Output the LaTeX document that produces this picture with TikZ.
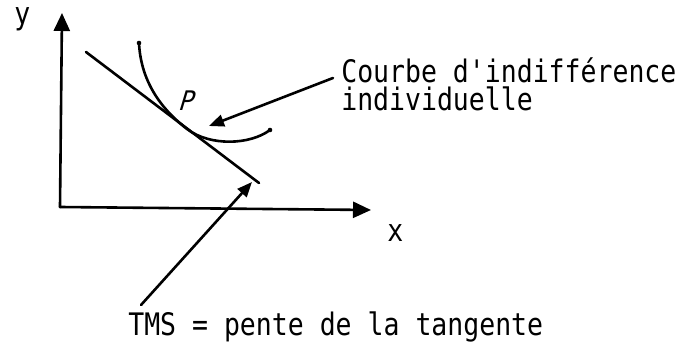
\documentclass[tikz,border=0pt]{standalone}
\usepackage{fontspec}
\setmonofont[FakeStretch=0.855]{DejaVu Sans Mono}
\newfontfamily\twi[FakeStretch=0.9,FakeSlant=0.3]{DejaVu Sans Mono}
\usetikzlibrary{arrows.meta}
\begin{document}
\begin{tikzpicture}[x=1pt,y=-1pt, line width=2.6pt, line cap=round,
  axis/.style={-{Triangle[length=18pt,width=16pt]}},
  pointer/.style={-{Triangle[length=15pt,width=12pt]}},
  lbl/.style={font=\ttfamily\fontsize{31}{28}\selectfont, inner sep=0pt, anchor=base west}]
\useasboundingbox (0,0) rectangle (687,344);
% axes
\coordinate (O) at (60,207);
\coordinate (ytip) at (62,13);
\coordinate (xtip) at (371,210);
\draw[axis] (O) -- (ytip);
\draw[axis] (O) -- (xtip);
\node[lbl] (ylab) at (13,25) {y};
\node[lbl] (xlab) at (386,242) {x};
% tangent line
\coordinate (L1) at (86,52);
\coordinate (L2) at (259,183);
\draw (L1) -- (L2);
% indifference curve
\coordinate (C0) at (139,43);
\coordinate (T) at (187,129);
\coordinate (C1) at (270,130);
\draw (C0) .. controls (141,85) and (165,112) .. (T)
           .. controls (210,146.5) and (250,145) .. (C1);
\fill (C0) circle (2.3pt);
\fill (C1) circle (2.3pt);
\node[font=\twi\fontsize{27}{27}\selectfont, inner sep=0pt] (P) at (185,101) {P};
% labels
\node[lbl, align=left] (cb) at (340,111) {Courbe d'indifférence\\individuelle};
\node[lbl] (tms) at (127,335) {TMS = pente de la tangente};
% pointers
\coordinate (a1s) at (333,78);
\coordinate (a1t) at (209,126);
\draw[pointer] (a1s) -- (a1t);
\coordinate (a2s) at (141,305);
\coordinate (a2t) at (252,182);
\draw[pointer] (a2s) -- (a2t);
\end{tikzpicture}
\end{document}
